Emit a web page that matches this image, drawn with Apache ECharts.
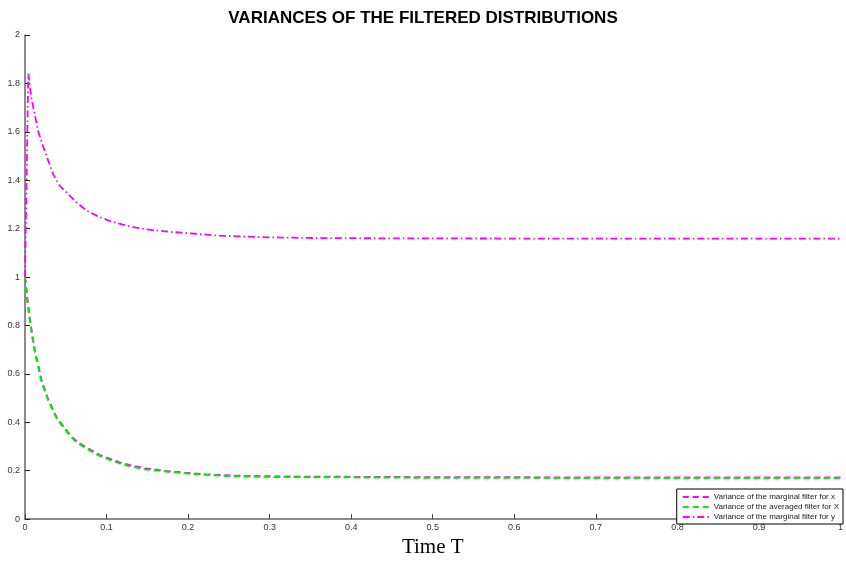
<!DOCTYPE html>
<html>
<head>
<meta charset="utf-8">
<script src="https://cdn.jsdelivr.net/npm/echarts@6/dist/echarts.min.js"></script>
<style>
  html, body { margin: 0; padding: 0; background: #fff; }
  #chart { width: 846px; height: 563px; }
</style>
</head>
<body>
<div id="chart"></div>
<script>
// 数据：点 (时间 T, 方差)
var seriesNames = [
    'Variance of the marginal filter for x',
    'Variance of the averaged filter for X',
    'Variance of the marginal filter for y'
];
var timeX = [0, 0.0028, 0.0053, 0.0081, 0.0122, 0.0163, 0.0203, 0.0285, 0.0386, 0.0528, 0.061, 0.0711, 0.0813, 0.0915, 0.116, 0.132, 0.148, 0.173, 0.197, 0.2215, 0.258, 0.311, 0.36, 0.5, 0.7, 1.0];
var varMarginalX = [1.0, 0.911, 0.843, 0.776, 0.694, 0.633, 0.572, 0.494, 0.421, 0.358, 0.328, 0.304, 0.284, 0.265, 0.234, 0.220, 0.209, 0.199, 0.191, 0.185, 0.179, 0.176, 0.175, 0.173, 0.172, 0.172];
var varAveragedX = [1.0, 0.907, 0.839, 0.772, 0.690, 0.629, 0.568, 0.490, 0.417, 0.354, 0.324, 0.300, 0.280, 0.261, 0.230, 0.216, 0.205, 0.197, 0.189, 0.183, 0.177, 0.174, 0.173, 0.171, 0.170, 0.170];
var timeY = [0, 0.004, 0.008, 0.0163, 0.0223, 0.0346, 0.0427, 0.0508, 0.063, 0.0752, 0.0894, 0.1037, 0.12, 0.136, 0.156, 0.177, 0.205, 0.238, 0.299, 0.36, 0.45, 0.6, 0.8, 1.0];
var varMarginalY = [1.0, 1.84, 1.736, 1.60, 1.539, 1.424, 1.377, 1.35, 1.309, 1.275, 1.251, 1.232, 1.217, 1.204, 1.194, 1.187, 1.180, 1.171, 1.164, 1.161, 1.160, 1.159, 1.159, 1.159];

function pairs(ts, vs){
    return ts.map(function (t, i) { return [t, vs[i]]; });
}

var chart = echarts.init(document.getElementById('chart'));
var axisFont = { fontFamily: 'Liberation Sans, Arial, sans-serif', fontSize: 9, color: '#333' };

var option = {
    animation: false,
    backgroundColor: '#fff',
    title: {
        text: 'VARIANCES OF THE FILTERED DISTRIBUTIONS',
        left: 'center',
        top: 10,
        padding: 0,
        textStyle: {
            fontFamily: 'Liberation Sans, Arial, sans-serif',
            fontSize: 17,
            fontWeight: 'bold',
            color: '#000'
        }
    },
    grid: { left: 25, right: 1, top: 35, bottom: 36, containLabel: false },
    legend: {
        orient: 'vertical',
        right: 3,
        bottom: 39,
        padding: [4, 4, 3, 5],
        itemGap: 2,
        itemWidth: 28,
        itemHeight: 9,
        backgroundColor: '#fff',
        borderColor: '#000',
        borderWidth: 1,
        itemStyle: { opacity: 0 },
        textStyle: { fontFamily: 'Liberation Sans, Arial, sans-serif', fontSize: 8, color: '#222', padding: [0, 0, 0, -2] },
        data: seriesNames
    },
    xAxis: {
        type: 'value',
        min: 0,
        max: 1,
        interval: 0.1,
        name: 'Time T',
        nameLocation: 'middle',
        nameGap: 13,
        nameTextStyle: { fontFamily: 'Liberation Serif, Times New Roman, serif', fontSize: 21, color: '#000', verticalAlign: 'top' },
        axisLine: { show: true, lineStyle: { color: '#666', width: 1.5 } },
        axisTick: { show: true, inside: true, length: 5, lineStyle: { color: '#444' } },
        axisLabel: Object.assign({ margin: 4 }, axisFont),
        splitLine: { show: false }
    },
    yAxis: {
        type: 'value',
        min: 0,
        max: 2,
        interval: 0.2,
        axisLine: { show: true, lineStyle: { color: '#666', width: 1.5 } },
        axisTick: { show: true, inside: true, length: 5, lineStyle: { color: '#222' } },
        axisLabel: Object.assign({ margin: 5 }, axisFont),
        splitLine: { show: false }
    },
    series: [
        {
            name: seriesNames[0],
            type: 'line',
            data: pairs(timeX, varMarginalX),
            symbol: 'none',
            smooth: false,
            color: '#ff00ff',
            lineStyle: { color: '#ff00ff', width: 2, type: [6, 4] }
        },
        {
            name: seriesNames[1],
            type: 'line',
            data: pairs(timeX, varAveragedX),
            symbol: 'none',
            smooth: false,
            color: '#00ee00',
            lineStyle: { color: '#00ee00', width: 2, type: [6, 4] }
        },
        {
            name: seriesNames[2],
            type: 'line',
            data: pairs(timeY, varMarginalY),
            symbol: 'none',
            smooth: false,
            color: '#ff00ff',
            lineStyle: { color: '#ff00ff', width: 1.8, type: [7, 3, 1.5, 3] }
        }
    ]
};
chart.setOption(option);
</script>
</body>
</html>
